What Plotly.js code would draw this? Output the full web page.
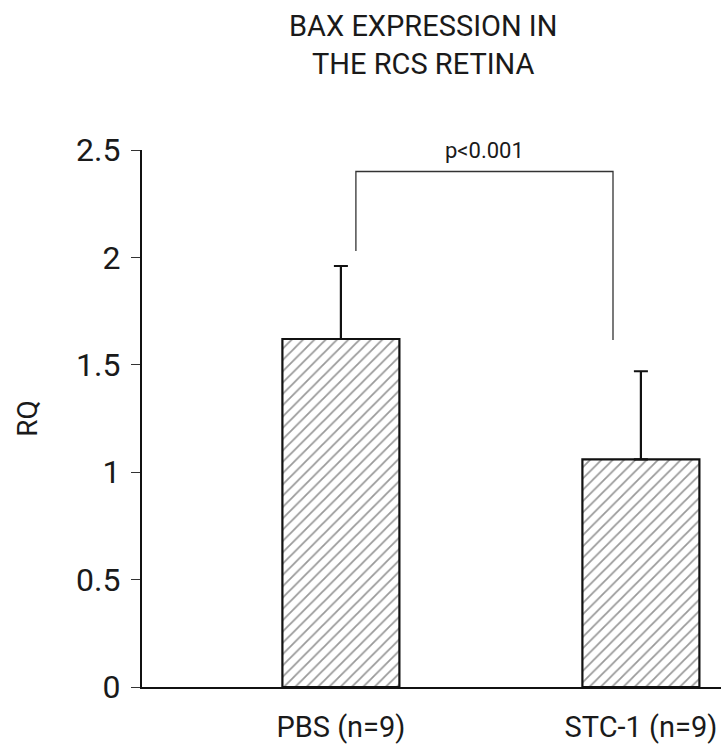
<!DOCTYPE html>
<html>
<head>
<meta charset="utf-8">
<script src="https://cdn.plot.ly/plotly-3.0.1.min.js"></script>
<style>html,body{margin:0;padding:0;background:#fff}#chart{width:721px;height:751px}</style>
</head>
<body>
<div id="chart"></div>
<script>
var categories = ["PBS (n=9)", "STC-1 (n=9)"];
var rqValues = [1.62, 1.06];
var rqErrors = [0.34, 0.41];
var yTickVals = [0, 0.5, 1, 1.5, 2, 2.5];
var yTickText = ["0", "0.5", "1", "1.5", "2", "2.5"];
var bracketX = [0.05, 0.907];
var bracketY = [2.03, 2.40, 1.615];
var pText = "p<0.001";

var FONT = 'Roboto, "DejaVu Sans", sans-serif';
function f(size) { return {family: FONT, size: size, color: '#1a1a1a'}; }

var trace = {
  type: 'bar',
  x: [0, 1],
  y: rqValues,
  width: 0.39,
  marker: {
    color: '#ffffff',
    line: {color: '#111111', width: 2.2},
    pattern: {shape: '/', size: 8, solidity: 0.22, fgcolor: '#333333', bgcolor: '#ffffff', fillmode: 'overlay'}
  },
  error_y: {type: 'data', symmetric: false, array: rqErrors, arrayminus: [0, 0], color: '#111111', thickness: 2.2, width: 7},
  hoverinfo: 'none'
};

var layout = {
  width: 721, height: 751,
  paper_bgcolor: '#ffffff', plot_bgcolor: '#ffffff',
  margin: {l: 142, r: 0, t: 150, b: 64, pad: 0},
  showlegend: false,
  font: f(30),
  title: {
    text: 'BAX EXPRESSION IN<br>THE RCS RETINA',
    font: f(29),
    x: 0.587, xref: 'container', xanchor: 'center',
    y: 0.952, yref: 'container', yanchor: 'top'
  },
  xaxis: {
    range: [-0.663, 1.267],
    tickvals: [0, 1], ticktext: categories,
    showgrid: false, zeroline: false,
    showline: true, linecolor: '#111111', linewidth: 2.2,
    ticks: '', ticklabelstandoff: 13, ticklabeloverflow: 'allow',
    tickfont: f(29),
    fixedrange: true
  },
  yaxis: {
    range: [0, 2.5],
    tickvals: yTickVals, ticktext: yTickText,
    showgrid: false, zeroline: false,
    showline: true, linecolor: '#111111', linewidth: 2.2,
    ticks: 'outside', ticklen: 9, tickwidth: 1, tickcolor: '#333333',
    ticklabelstandoff: 4,
    tickfont: f(32),
    title: {text: 'RQ', font: f(28), standoff: 30},
    automargin: false,
    fixedrange: true
  },
  shapes: [
    {type: 'path', xref: 'x', yref: 'y',
     path: 'M ' + bracketX[0] + ' ' + bracketY[0] + ' L ' + bracketX[0] + ' ' + bracketY[1] +
           ' L ' + bracketX[1] + ' ' + bracketY[1] + ' L ' + bracketX[1] + ' ' + bracketY[2],
     line: {color: '#333333', width: 1.3}}
  ],
  annotations: [
    {x: (bracketX[0] + bracketX[1]) / 2, y: bracketY[1], xref: 'x', yref: 'y',
     text: pText, showarrow: false, yanchor: 'bottom', yshift: 6,
     font: f(22)}
  ]
};

Plotly.newPlot('chart', [trace], layout, {displayModeBar: false, staticPlot: true});
</script>
</body>
</html>
